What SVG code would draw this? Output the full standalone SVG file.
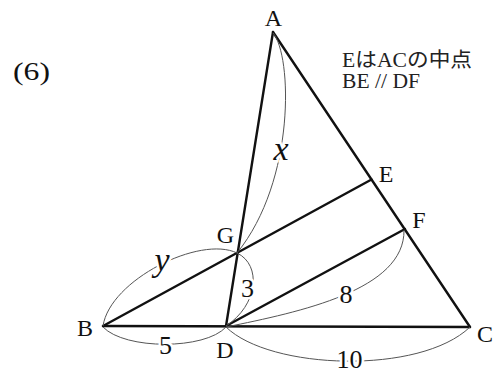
<svg xmlns="http://www.w3.org/2000/svg" width="499" height="374" viewBox="0 0 499 374">
<style>
.seg{stroke:#111;stroke-width:2.4;fill:none;stroke-linecap:round}
.arc{stroke:#555;stroke-width:1;fill:none}
text{font-family:'Liberation Serif','DejaVu Serif','Times New Roman',serif}
.lbl{font-size:24px;fill:#111;text-anchor:middle}
.num{font-size:26px;fill:#111;text-anchor:middle;stroke:#fff;stroke-width:5;paint-order:stroke}
.var{font-size:34px;font-style:italic;fill:#111;text-anchor:middle;stroke:#fff;stroke-width:5;paint-order:stroke}
.note{font-size:20px;fill:#222}
.jp{font-family:'Liberation Serif','Noto Sans CJK JP',serif}
</style>
<rect width="499" height="374" fill="#fff"/>
<text x="13" y="80" font-family="Liberation Serif, serif" font-size="25" fill="#111" textLength="37" lengthAdjust="spacingAndGlyphs">(6)</text>
<text class="note jp" x="342" y="67" textLength="130" lengthAdjust="spacingAndGlyphs">EはACの中点</text>
<text class="note" x="342" y="88" textLength="78" lengthAdjust="spacingAndGlyphs">BE // DF</text>
<g id="connectors">
<line class="seg" x1="273" y1="32" x2="226" y2="326"/>
<line class="seg" x1="273" y1="32" x2="470" y2="327"/>
<line class="seg" x1="103" y1="326" x2="470" y2="327"/>
<line class="seg" x1="103" y1="326" x2="371.5" y2="179.5"/>
<line class="seg" x1="226" y1="326" x2="405" y2="229"/>
<path class="arc" d="M273,33 C292,55 296,180 237,253"/>
<path class="arc" d="M103,326 C110,280 200,235 237,253"/>
<path class="arc" d="M237,253 C262,265 258,305 226,326"/>
<path class="arc" d="M103,327 C125,350 205,350 226,327"/>
<path class="arc" d="M226,327 C270,370 420,375 470,327"/>
<path class="arc" d="M226,327 C300,312 405,290 404,230"/>
</g>
<g id="A"><text class="lbl" x="273.5" y="26">A</text></g>
<g id="E"><text class="lbl" x="386" y="182">E</text></g>
<g id="F"><text class="lbl" x="419" y="228">F</text></g>
<g id="G"><text class="lbl" x="225.5" y="243">G</text></g>
<g id="B"><text class="lbl" x="85" y="336">B</text></g>
<g id="D"><text class="lbl" x="225" y="358">D</text></g>
<g id="C"><text class="lbl" x="485" y="342">C</text></g>
<g id="labels">
<text class="var" x="281" y="160">x</text>
<text class="var" x="162" y="271">y</text>
<text class="num" x="247.5" y="297">3</text>
<text class="num" x="165.5" y="354">5</text>
<text class="num" x="346" y="303">8</text>
<text class="num" x="349.5" y="368">10</text>
</g>
</svg>
